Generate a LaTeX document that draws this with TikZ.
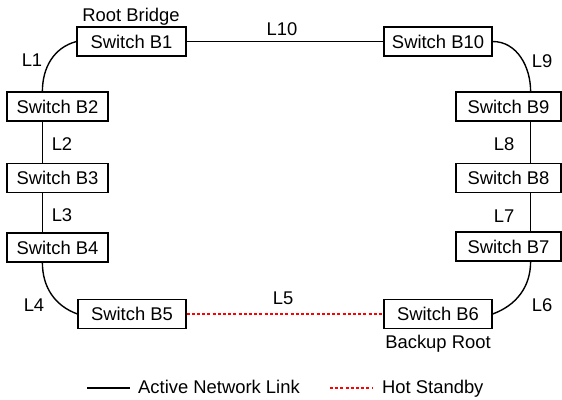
\documentclass[tikz,border=0pt]{standalone}
\usepackage{fontspec}
\setmainfont{Liberation Sans}
\usetikzlibrary{calc}
\begin{document}
\begin{tikzpicture}[x=1pt,y=-1pt,
  font=\fontsize{18.4}{20}\selectfont,
  sw/.style={draw=black,line width=1.2pt,minimum width=#1,minimum height=29pt,inner sep=0pt,fill=white},
  link/.style={line width=1.4pt,black},
  standby/.style={line width=1.3pt,red,dash pattern=on 3pt off 2.2pt},
  lbl/.style={inner sep=0pt}]
\useasboundingbox (0,0) rectangle (562,399);

% switches
\node[sw=109pt] (B1)  at (131.5,41.5) {Switch B1};
\node[sw=108pt] (B10) at (438,41.5)   {Switch B10};
\node[sw=101pt] (B2)  at (57.5,106.5) {Switch B2};
\node[sw=101pt] (B3)  at (57.5,178)   {Switch B3};
\node[sw=101pt] (B4)  at (57.5,247.5) {Switch B4};
\node[sw=105pt] (B9)  at (508.5,106.5){Switch B9};
\node[sw=105pt] (B8)  at (508.5,178)  {Switch B8};
\node[sw=105pt] (B7)  at (508.5,246.5){Switch B7};
\node[sw=108pt] (B5)  at (132,314)    {Switch B5};
\node[sw=108pt] (B6)  at (438,314)    {Switch B6};

% role labels
\node[lbl,anchor=base] (root)   at (131,21.5) {Root Bridge};
\node[lbl,anchor=base] (backup) at (438,348)  {Backup Root};

% links
\draw[link] (B1.east) -- (B10.west);
\draw[link] (B1.west) to[out=195,in=90] ([xshift=36pt]B2.north west);
\draw[link] ([xshift=36pt]B2.south west) -- ([xshift=36pt]B3.north west);
\draw[link] ([xshift=36pt]B3.south west) -- ([xshift=36pt]B4.north west);
\draw[link] ([xshift=36pt]B4.south west) to[out=-90,in=160] (B5.west);
\draw[link] (B10.east) to[out=0,in=90] ([xshift=-31pt]B9.north east);
\draw[link] ([xshift=-31pt]B9.south east) -- ([xshift=-31pt]B8.north east);
\draw[link] ([xshift=-31pt]B8.south east) -- ([xshift=-31pt]B7.north east);
\draw[link] ([xshift=-31pt]B7.south east) to[out=-90,in=20] (B6.east);
\draw[standby] (B5.east) -- (B6.west);

% link labels
\node[lbl] (l1)  at (32,60)   {L1};
\node[lbl] (l2)  at (62,144)  {L2};
\node[lbl] (l3)  at (62,215)  {L3};
\node[lbl] (l4)  at (34,305)  {L4};
\node[lbl] (l5)  at (283,298) {L5};
\node[lbl] (l6)  at (542,305) {L6};
\node[lbl] (l7)  at (504,216) {L7};
\node[lbl] (l8)  at (504,144) {L8};
\node[lbl] (l9)  at (542,61)  {L9};
\node[lbl] (l10) at (282,29)  {L10};

% legend
\coordinate (la) at (87,388);
\coordinate (lb) at (130,388);
\coordinate (lc) at (330,388);
\coordinate (ld) at (373,388);
\draw[link] (la) -- (lb);
\draw[standby] (lc) -- (ld);
\node[lbl,anchor=base west] (lact) at (138,393) {Active Network Link};
\node[lbl,anchor=base west] (lhot) at (382,393) {Hot Standby};
\end{tikzpicture}
\end{document}
